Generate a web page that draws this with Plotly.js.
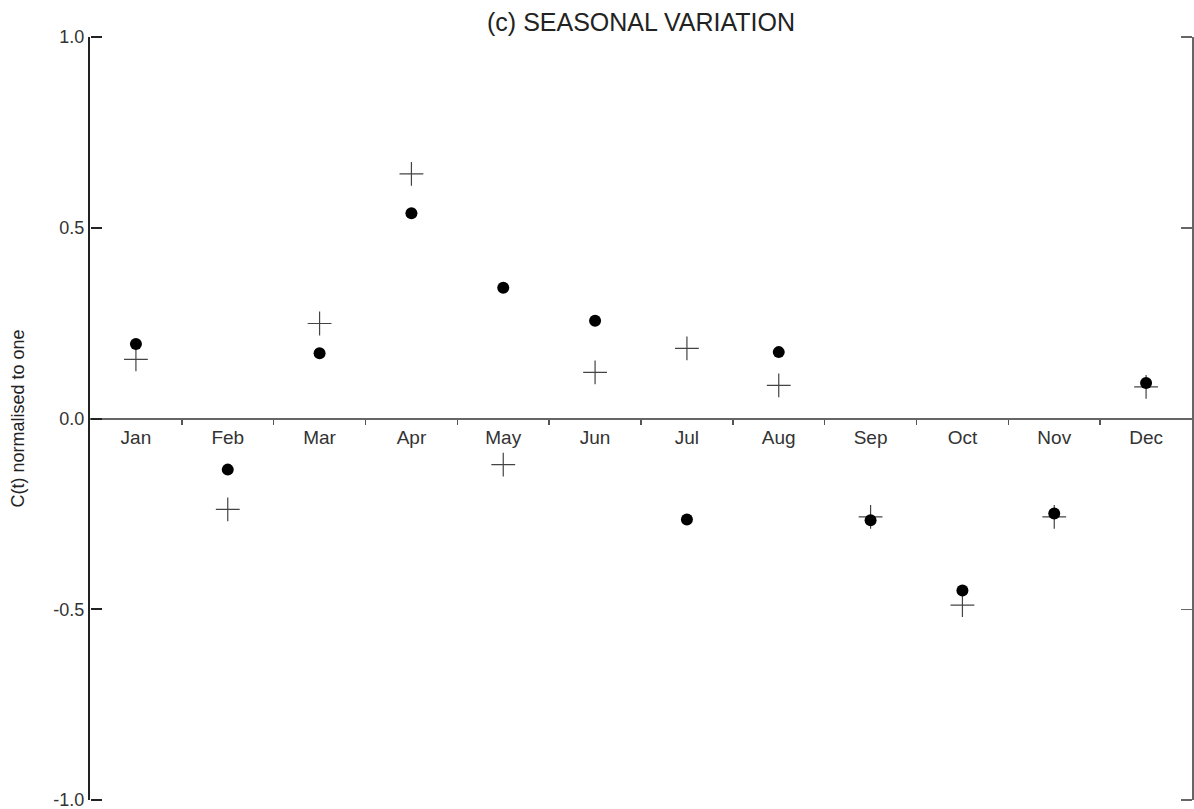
<!DOCTYPE html>
<html>
<head>
<meta charset="utf-8">
<script src="https://cdn.plot.ly/plotly-3.0.1.min.js"></script>
<style>html,body{margin:0;padding:0;background:#fff;}#chart{width:1194px;height:809px;}</style>
</head>
<body>
<div id="chart"></div>
<script>
const months = ["Jan","Feb","Mar","Apr","May","Jun","Jul","Aug","Sep","Oct","Nov","Dec"];
const monthPos = [0.5,1.5,2.5,3.5,4.5,5.5,6.5,7.5,8.5,9.5,10.5,11.5];
const monthEdges = [1,2,3,4,5,6,7,8,9,10,11];
const dotValues = [0.195,-0.134,0.171,0.538,0.343,0.256,-0.265,0.174,-0.267,-0.451,-0.249,0.093];
const plusValues = [0.155,-0.238,0.249,0.641,-0.121,0.121,0.184,0.087,-0.258,-0.489,-0.258,0.083];
const yTicks = [-1,-0.5,0,0.5,1];
const yTickText = ["-1.0","-0.5","0.0","0.5","1.0"];

const traces = [
  {x: monthPos, y: plusValues, xaxis:'x', yaxis:'y', type:'scatter', mode:'markers', name:'plus',
   marker:{symbol:'cross-thin', size:17, line:{width:1.2, color:'#444'}}, hoverinfo:'y'},
  {x: monthPos, y: dotValues, xaxis:'x', yaxis:'y', type:'scatter', mode:'markers', name:'dot',
   marker:{symbol:'circle', size:12, color:'#000'}, hoverinfo:'y'},
  {x: [], y: [], xaxis:'x2', yaxis:'y', type:'scatter', mode:'markers', showlegend:false},
  {x: [], y: [], xaxis:'x3', yaxis:'y', type:'scatter', mode:'markers', showlegend:false},
  {x: [], y: [], xaxis:'x', yaxis:'y2', type:'scatter', mode:'markers', showlegend:false},
  {x: [], y: [], xaxis:'x', yaxis:'y3', type:'scatter', mode:'markers', showlegend:false}
];

const layout = {
  width:1194, height:809,
  margin:{l:90, r:2, t:37, b:9},
  paper_bgcolor:'#fff', plot_bgcolor:'#fff',
  showlegend:false,
  font:{family:'"Liberation Sans", Arial, sans-serif', color:'#333'},
  title:{text:'(c) SEASONAL VARIATION', x:0.5, xanchor:'center', xref:'paper', y:0.973, yanchor:'middle', yref:'container',
         font:{size:25, color:'#222'}},
  xaxis:{range:[0,12], anchor:'y', showline:false, ticks:'', showticklabels:false,
         showgrid:false, zeroline:false, fixedrange:true},
  xaxis2:{range:[0,12], overlaying:'x', anchor:'free', position:0.5, side:'bottom', showline:true, linecolor:'#666', linewidth:2,
         tickvals:monthEdges, ticks:'outside', ticklen:5, tickwidth:1.5, tickcolor:'#555',
         showticklabels:false, showgrid:false, zeroline:false, fixedrange:true},
  xaxis3:{range:[0,12], overlaying:'x', anchor:'free', position:0.5, side:'bottom', showline:false,
          tickvals:monthPos, ticktext:months, ticks:'outside', ticklen:2, tickcolor:'rgba(0,0,0,0)',
          tickfont:{size:19, color:'#333'}, showgrid:false, zeroline:false, fixedrange:true},
  yaxis:{range:[-1,1], domain:[0,1], showline:true, linecolor:'#222', linewidth:2,
         tickvals:yTicks, ticktext:yTickText, ticks:'', ticklabeloverflow:'allow',
         tickfont:{size:18, color:'#333'}, showgrid:false, zeroline:false,
         title:{text:'C(t) normalised to one', font:{size:18, color:'#222'}, standoff:24}},
  yaxis2:{range:[-1,1], overlaying:'y', anchor:'free', position:0, side:'right', showline:false,
          tickvals:yTicks, ticks:'outside', ticklen:11, tickwidth:2, tickcolor:'#222',
          showticklabels:false, showgrid:false, zeroline:false},
  yaxis3:{range:[-1,1], overlaying:'y', anchor:'free', position:1, side:'left', showline:true, linecolor:'#666', linewidth:1.5,
          tickvals:yTicks, ticks:'outside', ticklen:11, tickwidth:1.5, tickcolor:'#666',
          showticklabels:false, showgrid:false, zeroline:false}
};

Plotly.newPlot('chart', traces, layout, {displayModeBar:false, staticPlot:true});
</script>
</body>
</html>
